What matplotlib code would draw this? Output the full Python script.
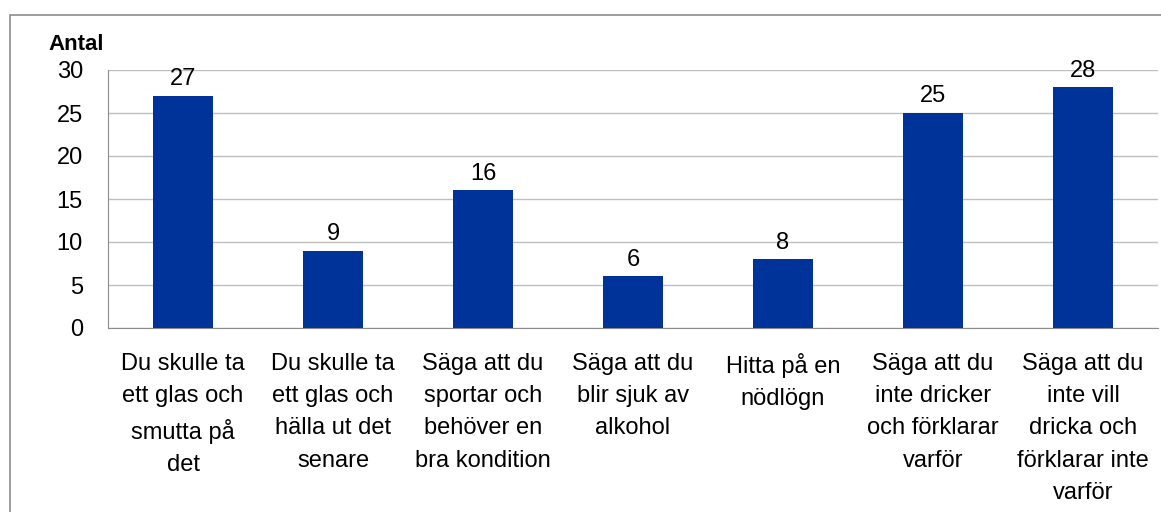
import matplotlib.pyplot as plt
from matplotlib.patches import Rectangle

categories = [
    "Du skulle ta\nett glas och\nsmutta på\ndet",
    "Du skulle ta\nett glas och\nhälla ut det\nsenare",
    "Säga att du\nsportar och\nbehöver en\nbra kondition",
    "Säga att du\nblir sjuk av\nalkohol",
    "Hitta på en\nnödlögn",
    "Säga att du\ninte dricker\noch förklarar\nvarför",
    "Säga att du\ninte vill\ndricka och\nförklarar inte\nvarför",
]
values = [27, 9, 16, 6, 8, 25, 28]
yticks = [0, 5, 10, 15, 20, 25, 30]

plt.rcParams['font.family'] = ['Liberation Sans', 'DejaVu Sans']

fig = plt.figure(figsize=(11.61, 5.12), dpi=100)
fig.patches.append(Rectangle((10 / 1161, -0.1), 1.2, (512 - 15) / 512 + 0.1,
                             transform=fig.transFigure, fill=False,
                             edgecolor='#8c8c8c', linewidth=1.2))

ax = fig.add_axes([108 / 1161, 1 - 328 / 512, 1050 / 1161, 258 / 512])
x = range(len(values))
ax.bar(x, values, width=0.4, color='#003399', zorder=3)
for xi, v in zip(x, values):
    ax.annotate(str(v), (xi, v), xytext=(0, 4), textcoords='offset points',
                ha='center', va='bottom', fontsize=17)

ax.set_xlim(-0.5, len(values) - 0.5)
ax.set_ylim(0, 30)
ax.set_yticks(yticks)
ax.yaxis.grid(True, color='#bfbfbf', linewidth=1, zorder=0)
ax.set_xticks(list(x))
ax.set_xticklabels(categories, fontsize=17, linespacing=1.6)
ax.tick_params(axis='x', length=0, pad=18)
ax.tick_params(axis='y', labelsize=17, length=0, pad=18)
for s in ['top', 'right']:
    ax.spines[s].set_visible(False)
for s in ['left', 'bottom']:
    ax.spines[s].set_color('#8c8c8c')

fig.text(76 / 1161, 1 - 45 / 512, 'Antal', fontsize=16, fontweight='bold',
         ha='center', va='center')

fig.savefig('out.png', dpi=100)
